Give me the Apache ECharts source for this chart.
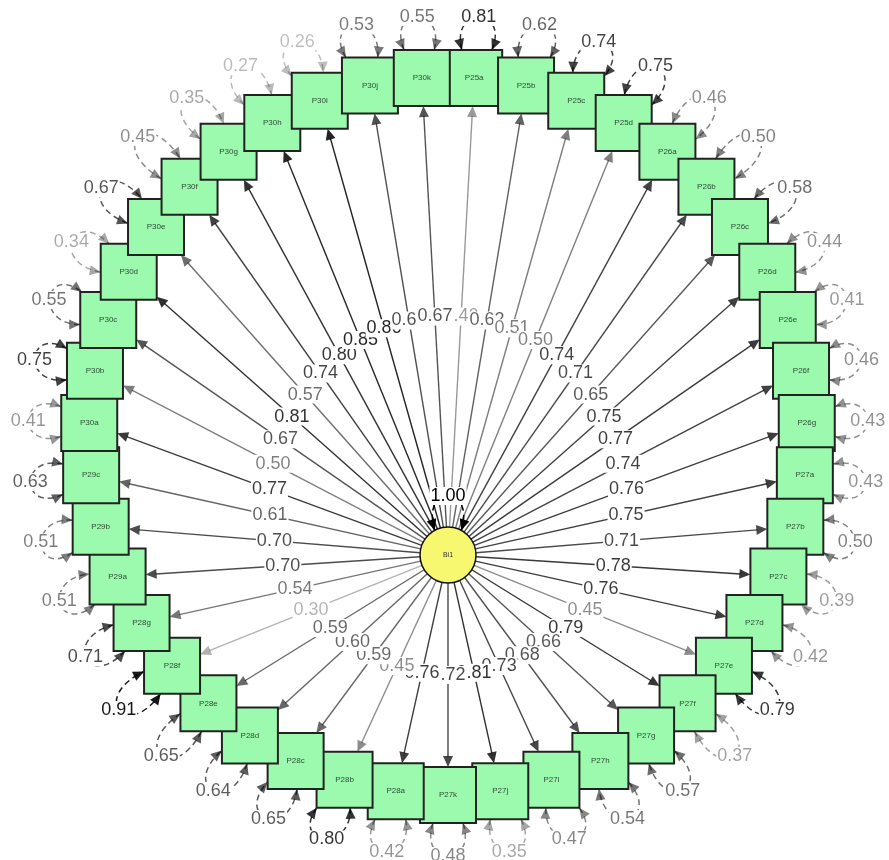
<!DOCTYPE html>
<html lang="en">
<head>
<meta charset="UTF-8">
<script src="https://cdn.jsdelivr.net/npm/echarts@6/dist/echarts.min.js"></script>
<title>Bi1</title>
<style>html,body{margin:0;padding:0;background:#fff}</style>
</head>
<body>
<div id="main" style="width:889px;height:860px"></div>
<script>
// indicators, clockwise from the top
var items = ['P25a','P25b','P25c','P25d',
    'P26a','P26b','P26c','P26d','P26e','P26f','P26g',
    'P27a','P27b','P27c','P27d','P27e','P27f','P27g','P27h','P27i','P27j','P27k',
    'P28a','P28b','P28c','P28d','P28e','P28f','P28g',
    'P29a','P29b','P29c',
    'P30a','P30b','P30c','P30d','P30e','P30f','P30g','P30h','P30i','P30j','P30k'];
var loadings = [0.40,0.62,0.51,0.50,
    0.74,0.71,0.65,0.75,0.77,0.74,0.76,
    0.75,0.71,0.78,0.76,0.45,0.79,0.66,0.68,0.73,0.81,0.72,
    0.76,0.45,0.59,0.60,0.59,0.30,0.54,
    0.70,0.70,0.61,
    0.77,0.50,0.67,0.81,0.57,0.74,0.80,0.85,0.86,0.69,0.67];
var residuals = [0.81,0.62,0.74,0.75,
    0.46,0.50,0.58,0.44,0.41,0.46,0.43,
    0.43,0.50,0.39,0.42,0.79,0.37,0.57,0.54,0.47,0.35,0.48,
    0.42,0.80,0.65,0.64,0.65,0.91,0.71,
    0.51,0.51,0.63,
    0.41,0.75,0.55,0.34,0.67,0.45,0.35,0.27,0.26,0.53,0.55];
var latentName = 'Bi1';
var latentVar = 1.00;

// layout (circle of indicators, latent below the middle)
var n = items.length;
var cx = 448, cy = 436, ringR = 359;
var lx = 448, ly = 555, lr = 28;
var half = 28;
var font = '"Liberation Sans", Arial, sans-serif';

function nodePos(i) {
    var t = (i + 0.5) * 2 * Math.PI / n;
    return [cx + ringR * Math.sin(t), cy - ringR * Math.cos(t), Math.sin(t), -Math.cos(t)];
}
function boxHit(ux, uy) {
    return half / Math.max(Math.abs(ux), Math.abs(uy));
}
function circleHit() { return lr; }
function shade(v) { return 'rgba(0,0,0,' + Math.min(1, v).toFixed(3) + ')'; }

function arrowHead(api, tip, ux, uy, col, len, wid) {
    var bx = tip[0] - ux * len, by = tip[1] - uy * len;
    var pts = [tip, [bx - uy * wid, by + ux * wid], [bx + uy * wid, by - ux * wid]].map(function (p) { return api.coord(p); });
    return {type: 'polygon', shape: {points: pts}, style: {fill: col}};
}

function loadingGeom(i) {
    var p = nodePos(i);
    var dx = p[0] - lx, dy = p[1] - ly, d = Math.sqrt(dx * dx + dy * dy);
    var ux = dx / d, uy = dy / d;
    var hb = boxHit(ux, uy);
    return {s: [lx + ux * lr, ly + uy * lr], e: [p[0] - ux * hb, p[1] - uy * hb], ux: ux, uy: uy};
}

function loopGeom(c, u, hitFn, ext) {
    var a = 28 * Math.PI / 180, ends = [], m = 0;
    [-a, a].forEach(function (r) {
        var vx = u[0] * Math.cos(r) - u[1] * Math.sin(r);
        var vy = u[0] * Math.sin(r) + u[1] * Math.cos(r);
        var h = hitFn(vx, vy);
        var e = [c[0] + vx * h, c[1] + vy * h];
        ends.push(e);
        m += ((e[0] - c[0]) * u[0] + (e[1] - c[1]) * u[1]) / 2;
    });
    var apex = hitFn(u[0], u[1]) + ext;
    var L = (apex - m) / 0.75;
    var tx = -u[1], ty = u[0];
    var side = function (e) { return ((e[0] - c[0]) * tx + (e[1] - c[1]) * ty) > 0 ? 1 : -1; };
    var sp = 15;
    var c1 = [ends[0][0] + u[0] * L + tx * sp * side(ends[0]), ends[0][1] + u[1] * L + ty * sp * side(ends[0])];
    var c2 = [ends[1][0] + u[0] * L + tx * sp * side(ends[1]), ends[1][1] + u[1] * L + ty * sp * side(ends[1])];
    return {e1: ends[0], e2: ends[1], c1: c1, c2: c2, label: [c[0] + u[0] * apex, c[1] + u[1] * apex]};
}

function loopShapes(api, g, col) {
    var p1 = api.coord(g.e1), p2 = api.coord(g.e2), q1 = api.coord(g.c1), q2 = api.coord(g.c2);
    var out = [{type: 'bezierCurve', shape: {x1: p1[0], y1: p1[1], cpx1: q1[0], cpy1: q1[1], cpx2: q2[0], cpy2: q2[1], x2: p2[0], y2: p2[1]},
        style: {stroke: col, lineWidth: 1.5, lineDash: [6, 4], fill: null}}];
    [[g.e1, g.c1], [g.e2, g.c2]].forEach(function (pr) {
        var dx = pr[0][0] - pr[1][0], dy = pr[0][1] - pr[1][1], d = Math.sqrt(dx * dx + dy * dy);
        out.push(arrowHead(api, pr[0], dx / d, dy / d, col, 11, 5));
    });
    return out;
}

function textEl(api, p, str, col, size) {
    var q = api.coord(p);
    return {type: 'text', x: q[0], y: q[1], style: {text: str, fill: col, fontSize: size, fontFamily: font,
        align: 'center', verticalAlign: 'middle', backgroundColor: '#fff', padding: [0, 1]}};
}

var main = document.getElementById('main');
var chart = echarts.init(main);
var idxData = items.map(function (name, i) { return [i, loadings[i], residuals[i]]; });

var option = {
    animation: false,
    grid: {left: 0, right: 0, top: 0, bottom: 0},
    xAxis: {type: 'value', min: 0, max: 889, show: false},
    yAxis: {type: 'value', min: 0, max: 860, inverse: true, show: false},
    series: [
        {
            name: 'loading arrows', type: 'custom', coordinateSystem: 'cartesian2d', clip: false, z: 1,
            data: idxData,
            renderItem: function (params, api) {
                var g = loadingGeom(api.value(0));
                var col = shade(api.value(1));
                var a = api.coord(g.s), b = api.coord([g.e[0] - g.ux * 10, g.e[1] - g.uy * 10]);
                return {type: 'group', children: [
                    {type: 'line', shape: {x1: a[0], y1: a[1], x2: b[0], y2: b[1]}, style: {stroke: col, lineWidth: 1.4}},
                    arrowHead(api, g.e, g.ux, g.uy, col, 11, 5)
                ]};
            }
        },
        {
            name: 'residuals', type: 'custom', coordinateSystem: 'cartesian2d', clip: false, z: 2,
            data: idxData,
            renderItem: function (params, api) {
                var p = nodePos(api.value(0));
                var g = loopGeom([p[0], p[1]], [p[2], p[3]], boxHit, 33);
                var col = shade(api.value(2));
                var ch = loopShapes(api, g, col);
                ch.push(textEl(api, g.label, api.value(2).toFixed(2), col, 18));
                return {type: 'group', children: ch};
            }
        },
        {
            name: 'indicators', type: 'custom', coordinateSystem: 'cartesian2d', clip: false, z: 3,
            data: idxData,
            renderItem: function (params, api) {
                var p = nodePos(api.value(0));
                var a = api.coord([p[0] - half, p[1] - half]), b = api.coord([p[0] + half, p[1] + half]);
                var c = api.coord([p[0], p[1]]);
                return {type: 'group', children: [
                    {type: 'rect', shape: {x: a[0], y: a[1], width: b[0] - a[0], height: b[1] - a[1]},
                        style: {fill: '#9BFAAD', stroke: '#222', lineWidth: 2}},
                    {type: 'text', x: c[0], y: c[1], style: {text: items[params.dataIndex], fill: '#2f4a36', fontSize: 8,
                        fontFamily: font, align: 'center', verticalAlign: 'middle'}}
                ]};
            }
        },
        {
            name: 'latent', type: 'custom', coordinateSystem: 'cartesian2d', clip: false, z: 4,
            data: [[lx, ly, latentVar]],
            renderItem: function (params, api) {
                var c = api.coord([api.value(0), api.value(1)]);
                var g = loopGeom([lx, ly], [0, -1], circleHit, 31);
                var col = shade(api.value(2));
                var ch = [{type: 'circle', shape: {cx: c[0], cy: c[1], r: lr}, style: {fill: '#F8F870', stroke: '#111', lineWidth: 1.5}},
                    {type: 'text', x: c[0], y: c[1], style: {text: latentName, fill: '#333', fontSize: 7, fontFamily: font,
                        align: 'center', verticalAlign: 'middle'}}];
                ch = ch.concat(loopShapes(api, g, col));
                ch.push(textEl(api, g.label, api.value(2).toFixed(2), col, 18));
                return {type: 'group', children: ch};
            }
        },
        {
            name: 'loading labels', type: 'custom', coordinateSystem: 'cartesian2d', clip: false, z: 5,
            data: idxData,
            renderItem: function (params, api) {
                var g = loadingGeom(api.value(0));
                var mid = [(g.s[0] + g.e[0]) / 2, (g.s[1] + g.e[1]) / 2];
                return textEl(api, mid, api.value(1).toFixed(2), shade(api.value(1)), 18);
            }
        }
    ]
};
chart.setOption(option);
</script>
</body>
</html>
